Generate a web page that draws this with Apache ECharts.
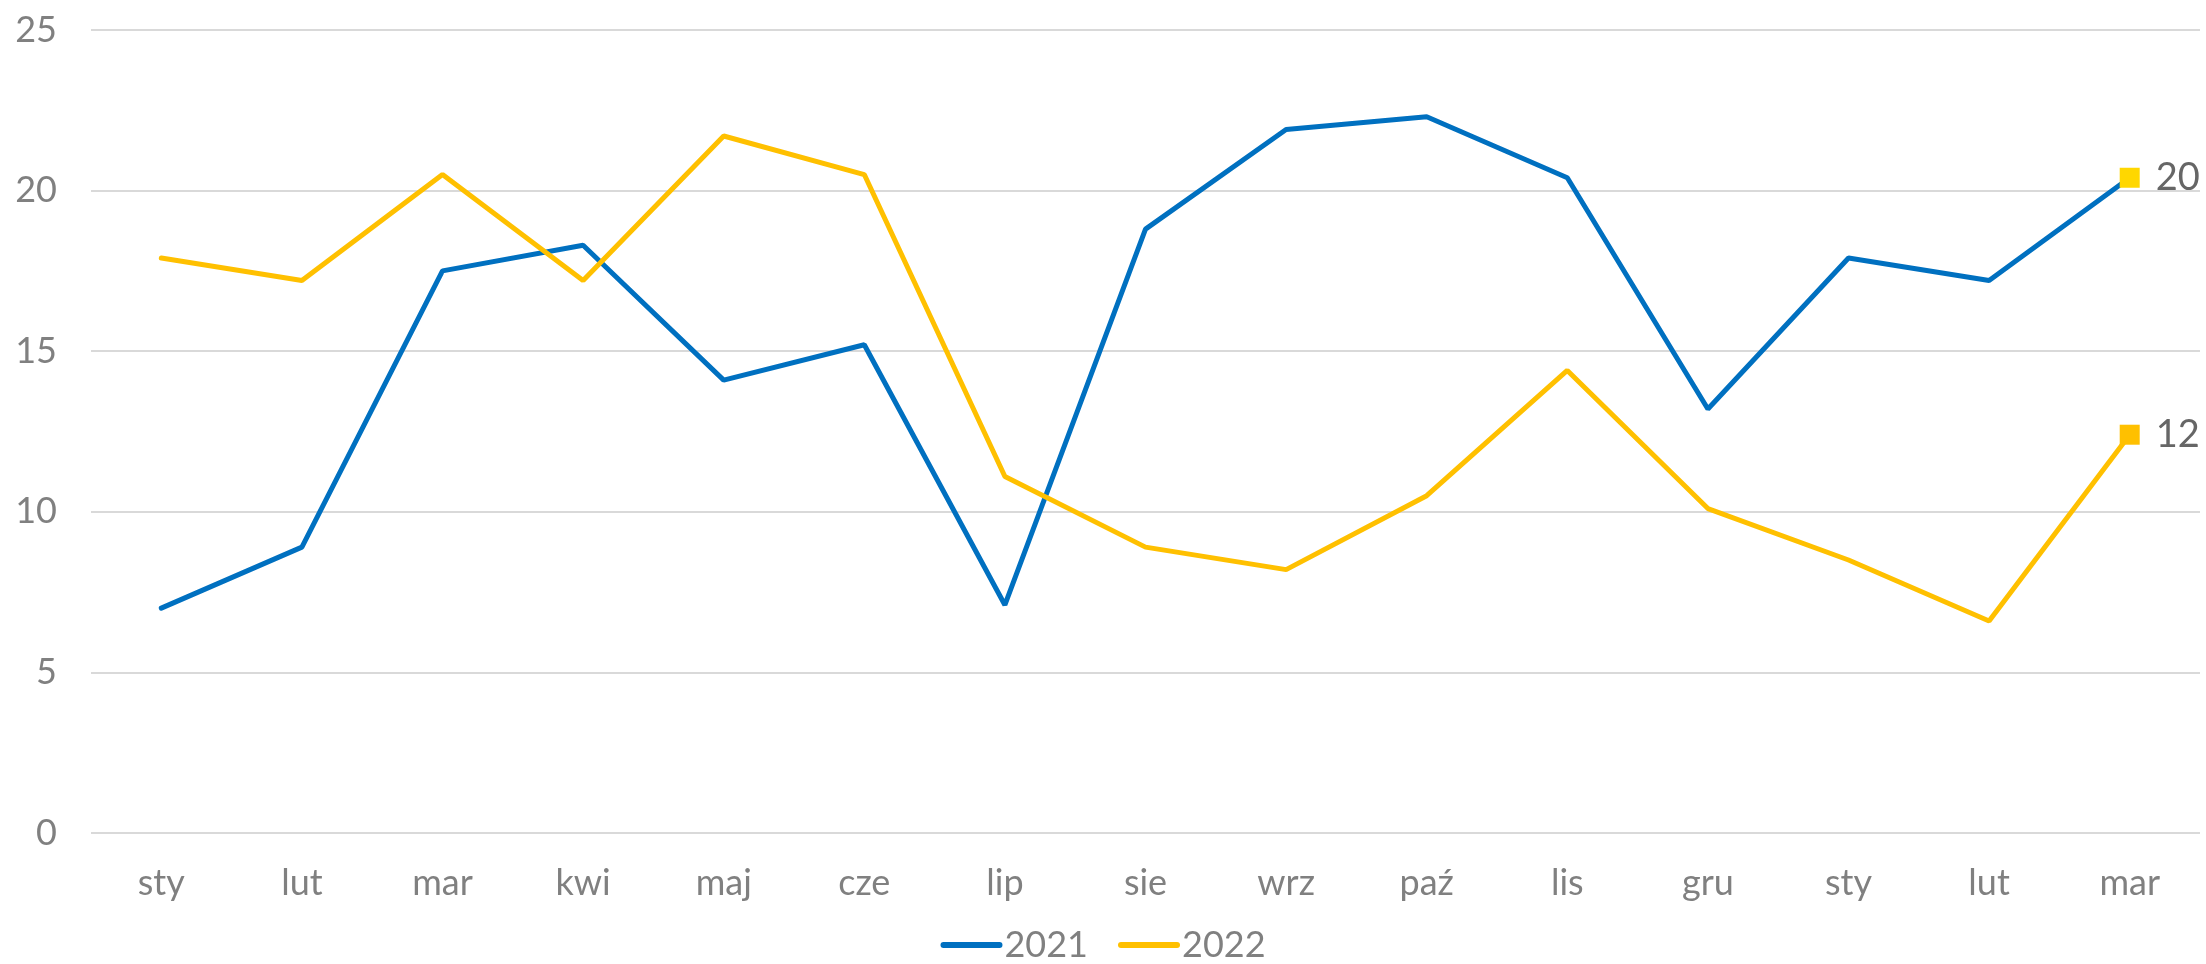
<!DOCTYPE html>
<html>
<head>
<meta charset="utf-8">
<script src="https://cdn.jsdelivr.net/npm/echarts@6/dist/echarts.min.js"></script>
<style>
  html, body { margin: 0; padding: 0; background: #fff; }
  #chart { width: 2206px; height: 964px; }
</style>
</head>
<body>
<div id="chart"></div>
<script>
const months = ['sty', 'lut', 'mar', 'kwi', 'maj', 'cze', 'lip', 'sie', 'wrz', 'paź', 'lis', 'gru', 'sty', 'lut', 'mar']
const values2021 = [7.0, 8.9, 17.5, 18.3, 14.1, 15.2, 7.1, 18.8, 21.9, 22.3, 20.4, 13.2, 17.9, 17.2, 20.4]
const values2022 = [17.9, 17.2, 20.5, 17.2, 21.7, 20.5, 11.1, 8.9, 8.2, 10.5, 14.4, 10.1, 8.5, 6.6, 12.4]
const yTicks = [0, 5, 10, 15, 20, 25]

const FONT = 'Lato, "Noto Sans", sans-serif'
const GREY = '#808080'

// only the last point gets a square marker with a rounded label
const withEndMarker = (arr, markerColor) => arr.map((v, i) => {
  if (i !== arr.length - 1) return v
  return {
    value: v,
    symbol: 'rect',
    symbolSize: 20,
    itemStyle: { color: markerColor },
    label: {
      show: true,
      position: 'right',
      distance: 16,
      color: '#666666',
      fontFamily: FONT,
      fontSize: 38,
      formatter: (p) => `${Math.round(p.value)}`
    }
  }
})

const myChart = echarts.init(document.getElementById('chart'))

const option = {
  animation: false,
  grid: {
    left: 91,
    right: 6,
    top: 30,
    bottom: 131
  },
  legend: {
    bottom: -4,
    left: 'center',
    itemWidth: 56,
    itemHeight: 20,
    itemGap: 30,
    lineStyle: { width: 6, cap: 'round' },
    itemStyle: { opacity: 0 },
    textStyle: {
      color: GREY,
      fontFamily: FONT,
      fontSize: 36
    },
    data: ['2021', '2022']
  },
  xAxis: {
    type: 'category',
    boundaryGap: true,
    data: months,
    axisLine: { show: false },
    axisTick: { show: false },
    axisLabel: {
      color: GREY,
      fontFamily: FONT,
      fontSize: 36,
      margin: 32,
      interval: 0
    }
  },
  yAxis: {
    type: 'value',
    min: yTicks[0],
    max: yTicks[yTicks.length - 1],
    interval: 5,
    axisLine: { show: false },
    axisTick: { show: false },
    axisLabel: {
      color: GREY,
      fontFamily: FONT,
      fontSize: 36,
      margin: 34
    },
    splitLine: {
      lineStyle: { color: '#d9d9d9', width: 2 }
    }
  },
  series: [
    {
      name: '2021',
      type: 'line',
      symbol: 'none',
      color: '#0070C0',
      lineStyle: { width: 5, color: '#0070C0', cap: 'round' },
      data: withEndMarker(values2021, '#FFD700'),
      z: 2
    },
    {
      name: '2022',
      type: 'line',
      symbol: 'none',
      color: '#FFC000',
      lineStyle: { width: 5, color: '#FFC000', cap: 'round' },
      data: withEndMarker(values2022, '#FFC000'),
      z: 3
    }
  ]
}

myChart.setOption(option)
</script>
</body>
</html>
